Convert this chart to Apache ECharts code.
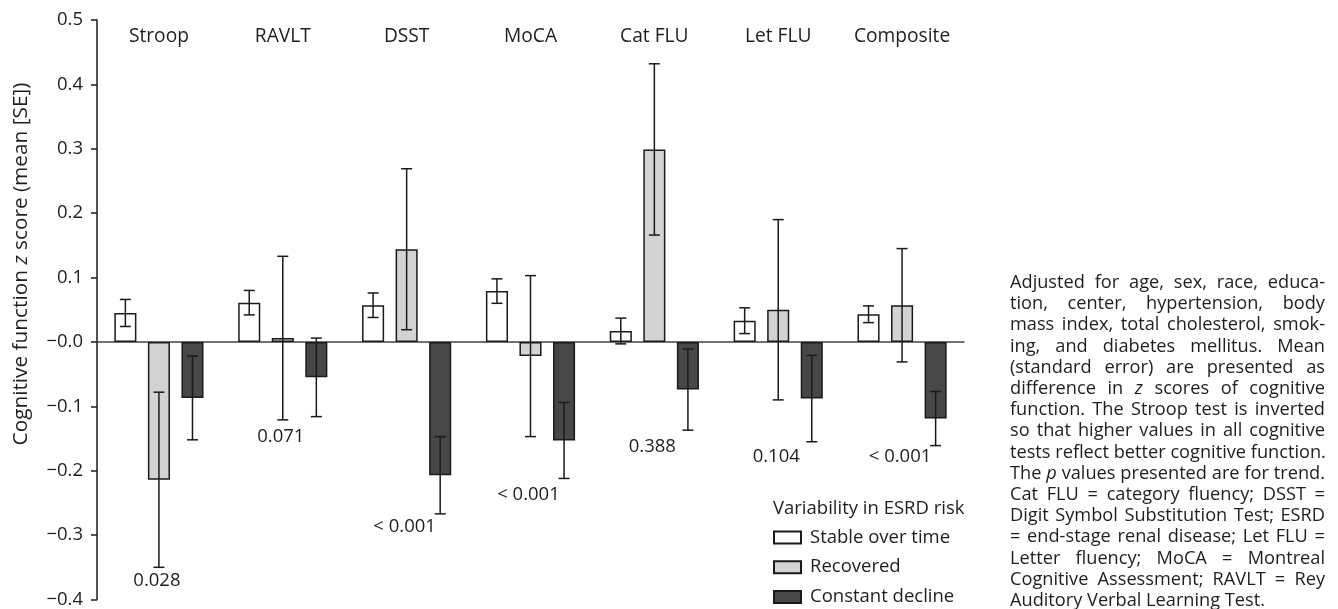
<!DOCTYPE html>
<html>
<head>
<meta charset="utf-8">
<script src="https://cdn.jsdelivr.net/npm/echarts@6/dist/echarts.min.js"></script>
<style>
  html, body { margin: 0; padding: 0; background: #fff; }
  #wrap { position: relative; width: 1338px; height: 609px; }
  #chart { position: absolute; left: 0; top: 0; width: 1338px; height: 609px; }
  #note {
    position: absolute; left: 1010px; top: 271px; width: 315px;
    font-family: 'Open Sans', sans-serif; font-size: 18.2px; line-height: 21.2px; color: #1e1e1e;
  }
  #note div { text-align: justify; text-align-last: justify; white-space: nowrap; }
  #note div.last { text-align: left; text-align-last: left; }
</style>
</head>
<body>
<div id="wrap">
  <div id="chart"></div>
  <div id="note">
    <div>Adjusted for age, sex, race, educa-</div>
    <div>tion, center, hypertension, body</div>
    <div>mass index, total cholesterol, smok-</div>
    <div>ing, and diabetes mellitus. Mean</div>
    <div>(standard error) are presented as</div>
    <div>difference in <i>z</i> scores of cognitive</div>
    <div>function. The Stroop test is inverted</div>
    <div>so that higher values in all cognitive</div>
    <div>tests reflect better cognitive function.</div>
    <div>The <i>p</i> values presented are for trend.</div>
    <div>Cat FLU = category fluency; DSST =</div>
    <div>Digit Symbol Substitution Test; ESRD</div>
    <div>= end-stage renal disease; Let FLU =</div>
    <div>Letter fluency; MoCA = Montreal</div>
    <div>Cognitive Assessment; RAVLT = Rey</div>
    <div class="last">Auditory Verbal Learning Test.</div>
  </div>
</div>
<script>
// tests along the x axis
const categories = ['Stroop', 'RAVLT', 'DSST', 'MoCA', 'Cat FLU', 'Let FLU', 'Composite']
const seriesNames = ['Stable over time', 'Recovered', 'Constant decline']

// mean z score difference and its SE, per group
const stable = [0.045, 0.061, 0.057, 0.079, 0.017, 0.033, 0.043]
const stableSE = [0.021, 0.019, 0.019, 0.019, 0.020, 0.020, 0.013]
const recovered = [-0.214, 0.006, 0.144, -0.022, 0.299, 0.050, 0.057]
const recoveredSE = [0.136, 0.127, 0.125, 0.125, 0.133, 0.140, 0.088]
const decline = [-0.087, -0.055, -0.207, -0.153, -0.074, -0.088, -0.119]
const declineSE = [0.065, 0.061, 0.060, 0.059, 0.063, 0.067, 0.042]

// p for trend, and the z level where each one is written
const pValues = ['0.028', '0.071', '< 0.001', '< 0.001', '0.388', '0.104', '< 0.001']
const pValueAt = [-0.371, -0.147, -0.287, -0.238, -0.162, -0.178, -0.178]

const yTicks = { min: -0.4, max: 0.5, step: 0.1 }

const FONT = "'Open Sans', sans-serif"
const INK = '#1e1e1e'
const EDGE = '#1a1a1a'
const fills = ['#ffffff', '#d3d3d3', '#474747']
const CAT_GAP = 0.28
const BAR_GAP = 0.52

const means = [stable, recovered, decline]
const ses = [stableSE, recoveredSE, declineSE]

function fmtTick(v) {
  if (Math.abs(v) < 1e-9) return '\u22120.0'
  return v < 0 ? '\u2212' + Math.abs(v).toFixed(1) : v.toFixed(1)
}

// error bar drawn at the k-th bar of each group
function errorBar(k) {
  return function (params, api) {
    const i = api.value(0), m = api.value(1), se = api.value(2)
    const band = api.size([1, 0])[0]
    const barW = band * (1 - CAT_GAP) / (3 + 2 * BAR_GAP)
    const dx = (k - 1) * barW * (1 + BAR_GAP)
    const hi = api.coord([i, m + se])
    const lo = api.coord([i, m - se])
    const x = hi[0] + dx
    const cap = 5.5
    const st = { stroke: EDGE, lineWidth: 1.5 }
    return {
      type: 'group',
      children: [
        { type: 'line', shape: { x1: x, y1: hi[1], x2: x, y2: lo[1] }, style: st },
        { type: 'line', shape: { x1: x - cap, y1: hi[1], x2: x + cap, y2: hi[1] }, style: st },
        { type: 'line', shape: { x1: x - cap, y1: lo[1], x2: x + cap, y2: lo[1] }, style: st },
      ],
    }
  }
}

// p value text under each group
function pLabel(params, api) {
  const pt = api.coord([api.value(0), api.value(1)])
  return {
    type: 'text',
    x: pt[0] - 2,
    y: pt[1],
    style: {
      text: pValues[params.dataIndex],
      fontSize: 18.5, fontFamily: FONT, fill: INK,
      align: 'center', verticalAlign: 'middle',
    },
  }
}

const chart = echarts.init(document.getElementById('chart'))

const barSeries = seriesNames.map((name, k) => ({
  name,
  type: 'bar',
  xAxisIndex: 0,
  barGap: BAR_GAP * 100 + '%',
  barCategoryGap: CAT_GAP * 100 + '%',
  itemStyle: { color: fills[k], borderColor: EDGE, borderWidth: 1.5 },
  z: 2,
  data: means[k],
}))

const errSeries = seriesNames.map((name, k) => ({
  type: 'custom',
  xAxisIndex: 0,
  renderItem: errorBar(k),
  silent: true,
  z: 3,
  data: categories.map((c, i) => [i, means[k][i], ses[k][i]]),
}))

chart.setOption({
  animation: false,
  textStyle: { fontFamily: FONT },
  grid: { left: 97, right: 374, top: 20, bottom: 8 },
  legend: {
    data: seriesNames,
    orient: 'vertical',
    left: 773,
    top: 528,
    padding: 0,
    itemWidth: 27,
    itemHeight: 12,
    itemGap: 10.7,
    icon: 'rect',
    textStyle: { fontSize: 18.5, lineHeight: 18, color: INK, fontFamily: FONT, padding: [0, 0, 0, 4] },
  },
  graphic: [
    {
      type: 'text', left: 773, top: 499,
      style: { text: 'Variability in ESRD risk', fontSize: 18.5, fontFamily: FONT, fill: INK },
    },
    {
      type: 'text', x: 21, y: 264, rotation: Math.PI / 2,
      style: {
        text: '{a|Cognitive function }{i|z}{a| score (mean [SE])}',
        align: 'center', verticalAlign: 'middle',
        rich: {
          a: { fontSize: 20.8, fontFamily: FONT, fill: INK },
          i: { fontSize: 20.8, fontFamily: FONT, fontStyle: 'italic', fill: INK },
        },
      },
    },
  ],
  xAxis: [
    {
      type: 'category',
      data: categories,
      axisLine: { onZero: true, lineStyle: { color: '#444', width: 1.5 } },
      axisTick: { show: false },
      axisLabel: { show: false },
    },
    {
      type: 'category',
      position: 'top',
      data: categories,
      axisLine: { show: false },
      axisTick: { show: false },
      axisLabel: { inside: true, interval: 0, margin: 7, fontSize: 19.2, color: INK, fontFamily: FONT },
    },
  ],
  yAxis: {
    type: 'value',
    min: yTicks.min,
    max: yTicks.max,
    interval: yTicks.step,
    axisLine: { show: true, onZero: false, lineStyle: { color: EDGE, width: 1.5 } },
    axisTick: { show: true, length: 6, lineStyle: { color: EDGE, width: 1.5 } },
    axisLabel: { fontSize: 18.5, color: INK, fontFamily: FONT, margin: 14, formatter: fmtTick },
    splitLine: { show: false },
  },
  series: [
    ...barSeries,
    ...errSeries,
    {
      type: 'custom',
      xAxisIndex: 0,
      renderItem: pLabel,
      silent: true,
      z: 4,
      data: categories.map((c, i) => [i, pValueAt[i]]),
    },
  ],
})
</script>
</body>
</html>
